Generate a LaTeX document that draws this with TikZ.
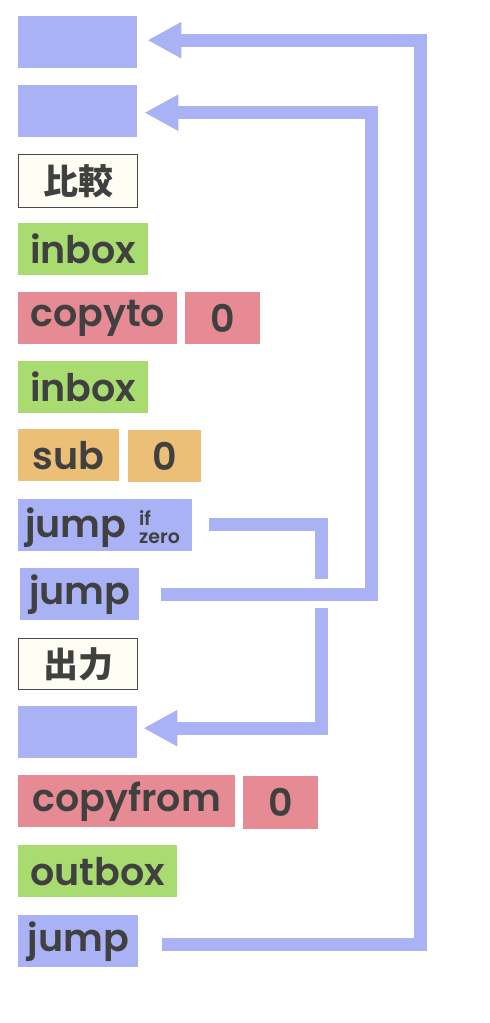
\documentclass[tikz,border=0pt]{standalone}
\usepackage{fontspec}
\newfontfamily\pop{Poppins}[BoldFont={Poppins SemiBold}]
\newfontfamily\cjk{Noto Sans CJK JP}
\usetikzlibrary{arrows.meta,calc}
\definecolor{cblue}{HTML}{A8B2F5}
\definecolor{cgreen}{HTML}{A8DC70}
\definecolor{cpink}{HTML}{E68A93}
\definecolor{corange}{HTML}{EBBF75}
\definecolor{ccream}{HTML}{FFFEF4}
\definecolor{cborder}{HTML}{4A4A4A}
\definecolor{ctext}{HTML}{404040}
\tikzset{
  blk/.style={anchor=north west, inner sep=0pt, minimum height=52pt, text=ctext,
    font=\pop\bfseries\fontsize{38pt}{40pt}\selectfont},
  cmt/.style={blk, fill=ccream, draw=cborder, line width=1.3pt,
    font=\cjk\bfseries\fontsize{35pt}{38pt}\selectfont},
  txt/.style={inner sep=0pt, text=ctext, font=\pop\bfseries\fontsize{38pt}{40pt}\selectfont},
  small/.style={inner sep=0pt, text=ctext, align=left,
    font=\pop\bfseries\fontsize{19pt}{18pt}\selectfont},
  conn/.style={draw=cblue, line width=13pt, line join=miter},
  arr/.style={conn, -{Triangle[length=34pt,width=34pt]}}
}
\begin{document}
\begin{tikzpicture}[x=1pt,y=-1pt]
\useasboundingbox (0,0) rectangle (490,1023);
% boxes
\node[blk, fill=cblue, minimum width=119pt] (b1) at (18,16) {};
\node[blk, fill=cblue, minimum width=119pt] (b2) at (18,85) {};
\node[cmt, minimum width=119pt, minimum height=53pt] (c1) at (18,154) {比較};
\node[blk, fill=cgreen, minimum width=130pt] (in1) at (18,223) {inbox};
\node[blk, fill=cpink, minimum width=159pt] (cpt) at (18,292) {copyto};
\node[blk, fill=cpink, minimum width=75pt] (cpt0) at (185,292) {0};
\node[blk, fill=cgreen, minimum width=130pt] (in2) at (18,361) {inbox};
\node[blk, fill=corange, minimum width=101pt] (sub) at (18,429) {sub};
\node[blk, fill=corange, minimum width=73pt] (sub0) at (128,430) {0};
\node[blk, fill=cblue, minimum width=174pt] (jz) at (18,499) {};
\node[txt, anchor=base west] (jzt) at (25,537) {jump};
\node[small, anchor=north west] (jzcond) at (139,510) {if\\zero};
\node[blk, fill=cblue, minimum width=119pt] (j2) at (20,568) {jump};
\node[cmt, minimum width=119pt, minimum height=51pt] (c2) at (18,638) {出力};
\node[blk, fill=cblue, minimum width=119pt] (b3) at (18,706) {};
\node[blk, fill=cpink, minimum width=217pt] (cpf) at (18,775) {copyfrom};
\node[blk, fill=cpink, minimum width=75pt, minimum height=53pt] (cpf0) at (243,776) {0};
\node[blk, fill=cgreen, minimum width=159pt] (out) at (18,845) {outbox};
\node[blk, fill=cblue, minimum width=120pt] (j3) at (18,915) {jump};
% connectors
\coordinate (gap1) at (321.5,579);
\coordinate (gap2) at (321.5,608);
\draw[conn] ([xshift=17pt,yshift=0.5pt]jz.east) -| (gap1);
\draw[arr] (gap2) |- ([xshift=6pt,yshift=4pt]b3.east);
\draw[arr] ([xshift=22pt]j2.east) -- ++(210.5,0) |- ([xshift=7pt,yshift=-1.5pt]b2.east);
\draw[arr] ([xshift=24pt,yshift=-3.5pt]j3.east) -- ++(258.5,0) |- ([xshift=10pt,yshift=2pt]b1.east);
\end{tikzpicture}
\end{document}
